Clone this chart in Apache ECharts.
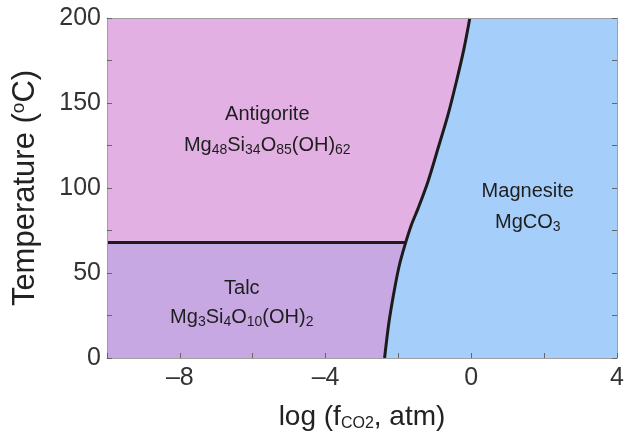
<!DOCTYPE html>
<html>
<head>
<meta charset="utf-8">
<title>Mg silicate / carbonate stability fields</title>
<script src="https://cdn.jsdelivr.net/npm/echarts@6/dist/echarts.min.js"></script>
<style>
  html, body { margin: 0; padding: 0; background: #ffffff; }
  #chart { width: 628px; height: 438px; }
</style>
</head>
<body>
<div id="chart"></div>
<script>
// Axis extents
const xRange = [-10, 4];
const tRange = [0, 200];
const xTickValues = [-8, -4, 0, 4];
const tTickValues = [0, 50, 100, 150, 200];

// Magnesite boundary (log fCO2, temperature °C), from 0 °C up to 200 °C
const boundaryX = [-2.38, -2.26, -2.12, -1.97, -1.80, -1.65, -1.46, -1.19, -0.91, -0.64, -0.41, -0.20, -0.04];
const boundaryT = [0, 21, 39, 55, 68, 78, 88, 103.7, 123.5, 143, 162.5, 182, 200];

// Talc / antigorite transition temperature
const talcAntigoriteT = 68;

// Field names and their label anchors
const fieldNames = ['Antigorite', 'Talc', 'Magnesite'];
const fieldFormulas = [
  'Mg{s|48}Si{s|34}O{s|85}(OH){s|62}',
  'Mg{s|3}Si{s|4}O{s|10}(OH){s|2}',
  'MgCO{s|3}'
];
const nameAnchors = [[-5.6, 143], [-6.3, 41], [1.55, 98]];
const formulaAnchors = [[-5.6, 125], [-6.3, 24], [1.55, 80]];

const fieldColors = { Antigorite: '#e3b0e3', Talc: '#c8a8e3', Magnesite: '#a5cefa' };

// Build the three stability fields as polygons in data space
const curve = boundaryX.map((x, i) => [x, boundaryT[i]]);
const tripleIdx = boundaryT.indexOf(talcAntigoriteT);
const triple = curve[tripleIdx];

const talcPoly = [[xRange[0], tRange[0]], [xRange[0], talcAntigoriteT]]
  .concat(curve.slice(0, tripleIdx + 1).reverse());
const antigoritePoly = [[xRange[0], talcAntigoriteT], [xRange[0], tRange[1]]]
  .concat(curve.slice(tripleIdx).reverse());
const magnesitePoly = curve.slice().concat([[xRange[1], tRange[1]], [xRange[1], tRange[0]]]);

const polygons = { Antigorite: antigoritePoly, Talc: talcPoly, Magnesite: magnesitePoly };

const chart = echarts.init(document.getElementById('chart'), null, { renderer: 'canvas' });

const fontFamily = '"Liberation Sans", Arial, Helvetica, sans-serif';
const axisLineStyle = { color: '#a0a0a0', width: 1 };
const tickStyle = { color: '#666666', width: 1 };

function minusFmt(v) {
  return v < 0 ? '\u2013' + Math.abs(v) : String(v);
}

const labelPoints = [];
fieldNames.forEach((n, i) => {
  labelPoints.push({ value: nameAnchors[i], label: { formatter: n } });
  labelPoints.push({ value: formulaAnchors[i], label: { formatter: fieldFormulas[i] } });
});

const option = {
  animation: false,
  backgroundColor: '#ffffff',
  textStyle: { fontFamily: fontFamily },
  grid: { left: 107, right: 11, top: 18, bottom: 80, containLabel: false },
  xAxis: [
    {
      type: 'value', position: 'bottom', min: xRange[0], max: xRange[1], interval: 2, z: 10,
      axisLine: { show: true, onZero: false, lineStyle: axisLineStyle },
      axisTick: { show: true, inside: true, length: 5, lineStyle: tickStyle },
      axisLabel: {
        fontSize: 25, color: '#333333', margin: 8, fontFamily: fontFamily,
        formatter: v => (xTickValues.indexOf(v) >= 0 ? minusFmt(v) : '')
      },
      splitLine: { show: false },
      name: 'log (f{s|CO2}, atm)',
      nameLocation: 'middle',
      nameGap: 44,
      nameTextStyle: {
        fontSize: 28, color: '#222222', fontFamily: fontFamily,
        rich: { s: { fontSize: 16, color: '#222222', fontFamily: fontFamily, padding: [14, 0, 0, 0] } }
      }
    },
    {
      type: 'value', position: 'top', min: xRange[0], max: xRange[1], interval: 2, z: 10,
      axisLine: { show: true, onZero: false, lineStyle: axisLineStyle },
      axisTick: { show: false }, axisLabel: { show: false }, splitLine: { show: false }
    }
  ],
  yAxis: [
    {
      type: 'value', position: 'left', min: tRange[0], max: tRange[1], interval: 25, z: 10,
      axisLine: { show: true, onZero: false, lineStyle: axisLineStyle },
      axisTick: { show: true, inside: true, length: 5, lineStyle: tickStyle },
      axisLabel: {
        fontSize: 25, color: '#333333', margin: 6, fontFamily: fontFamily,
        formatter: v => (tTickValues.indexOf(v) >= 0 ? String(v) : '')
      },
      splitLine: { show: false },
      name: 'Temperature ({p|o}C)',
      nameLocation: 'middle',
      nameGap: 66,
      nameTextStyle: {
        fontSize: 31, color: '#222222', fontFamily: fontFamily,
        rich: { p: { fontSize: 19, color: '#222222', fontFamily: fontFamily, padding: [0, 0, 13, 0] } }
      }
    },
    {
      type: 'value', position: 'right', min: tRange[0], max: tRange[1], interval: 25, z: 10,
      axisLine: { show: true, onZero: false, lineStyle: axisLineStyle },
      axisTick: { show: true, inside: true, length: 5, lineStyle: tickStyle },
      axisLabel: { show: false }, splitLine: { show: false }
    }
  ],
  series: [
    {
      type: 'custom',
      name: 'fields',
      xAxisIndex: 0, yAxisIndex: 0,
      clip: true,
      silent: true,
      z: 1,
      data: fieldNames,
      renderItem: function (params, api) {
        const key = fieldNames[params.dataIndex];
        const pts = polygons[key].map(p => api.coord(p));
        return {
          type: 'polygon',
          shape: { points: pts },
          style: { fill: fieldColors[key], stroke: null }
        };
      }
    },
    {
      type: 'line',
      name: 'magnesite boundary',
      xAxisIndex: 0, yAxisIndex: 0,
      data: curve,
      smooth: 0.3,
      showSymbol: false,
      symbol: 'none',
      clip: true,
      z: 3,
      lineStyle: { color: '#1c1c1c', width: 3 }
    },
    {
      type: 'line',
      name: 'talc-antigorite boundary',
      xAxisIndex: 0, yAxisIndex: 0,
      data: [[xRange[0], talcAntigoriteT], [triple[0], talcAntigoriteT]],
      showSymbol: false,
      symbol: 'none',
      clip: true,
      z: 3,
      lineStyle: { color: '#1c1c1c', width: 3 }
    },
    {
      type: 'scatter',
      name: 'field labels',
      xAxisIndex: 0, yAxisIndex: 0,
      symbolSize: 0,
      silent: true,
      z: 4,
      itemStyle: { opacity: 1 },
      data: labelPoints,
      label: {
        show: true,
        position: 'inside',
        fontSize: 20,
        color: '#1e1e1e',
        opacity: 1,
        fontFamily: fontFamily,
        rich: { s: { fontSize: 14, color: '#1e1e1e', fontFamily: fontFamily, padding: [10, 0, 0, 0] } }
      }
    }
  ]
};

chart.setOption(option);
</script>
</body>
</html>
